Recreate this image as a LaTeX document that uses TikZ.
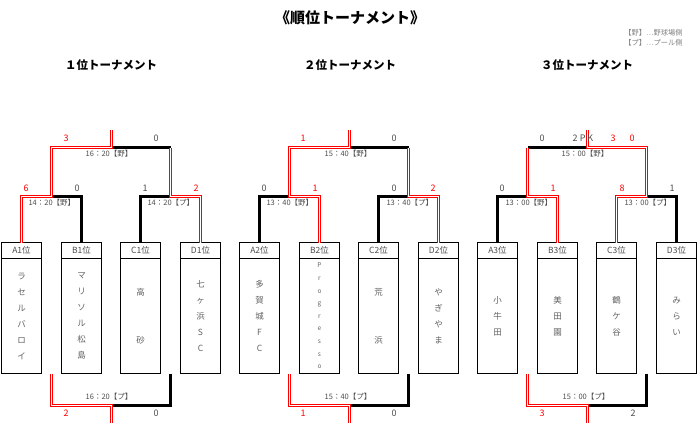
\documentclass[tikz,border=0pt]{standalone}
\usepackage{fontspec}
\setmainfont{Noto Sans CJK JP}
\usetikzlibrary{positioning}

\definecolor{txtgray}{gray}{0.3}
\definecolor{namegray}{gray}{0.38}
\definecolor{winred}{RGB}{255,0,0}

\tikzset{
  rank/.style={draw, line width=1pt, minimum width=40pt, minimum height=16pt, inner sep=0pt, outer sep=0pt, anchor=north, text=txtgray, font=\fontsize{8.5}{10}\selectfont},
  team/.style={draw, line width=1pt, minimum width=40pt, minimum height=115pt, inner sep=0pt, outer sep=0pt, below=0pt of #1, align=center, text=namegray, font=\fontsize{8.5}{16}\selectfont},
  win/.style={color=winred, line width=3pt, postaction={draw, color=white, line width=1pt}},
  lose/.style={draw=black, line width=2.2pt},
  score/.style={text=txtgray, font=\fontsize{9}{10}\selectfont},
  wscore/.style={score, text=winred},
  time/.style={text=txtgray, font=\fontsize{7.5}{9}\selectfont},
  head/.style={font=\bfseries\fontsize{11.5}{13}\selectfont}
}

\begin{document}
\begin{tikzpicture}[x=1pt, y=-1pt]
\useasboundingbox (0,0) rectangle (700,428);

\node[font=\bfseries\fontsize{15}{17}\selectfont] (T) at (350,18) {《順位トーナメント》};
\node[anchor=east, text=gray, font=\fontsize{7.2}{8}\selectfont] (K1) at (686,33) {【野】⋯野球場側};
\node[anchor=east, text=gray, font=\fontsize{7.2}{8}\selectfont] (K2) at (686,43) {【プ】⋯プール側};

\node[head] (H1) at (111,65) {１位トーナメント};
\node[head] (H2) at (350,65) {２位トーナメント};
\node[head] (H3) at (587,65) {３位トーナメント};

% boxes
\node[rank] (A1) at (21.5,242.5)  {A1位};
\node[rank] (B1) at (81.5,242.5)  {B1位};
\node[rank] (C1) at (140.5,242.5) {C1位};
\node[rank] (D1) at (200.5,242.5) {D1位};
\node[rank] (A2) at (259.5,242.5) {A2位};
\node[rank] (B2) at (319.5,242.5) {B2位};
\node[rank] (C2) at (378.5,242.5) {C2位};
\node[rank] (D2) at (438.5,242.5) {D2位};
\node[rank] (A3) at (497.5,242.5) {A3位};
\node[rank] (B3) at (557.5,242.5) {B3位};
\node[rank] (C3) at (616.5,242.5) {C3位};
\node[rank] (D3) at (676.5,242.5) {D3位};

\node[team=A1] (A1t) {ラ\\セ\\ル\\バ\\ロ\\イ};
\node[team=B1] (B1t) {マ\\リ\\ソ\\ル\\松\\島};
\node[team=C1] (C1t) {高\\\mbox{}\\\mbox{}\\砂};
\node[team=D1] (D1t) {七\\ヶ\\浜\\S\\C};
\node[team=A2] (A2t) {多\\賀\\城\\F\\C};
\node[team=B2, font=\fontsize{6.5}{12.6}\selectfont] (B2t) {P\\r\\o\\g\\r\\e\\s\\s\\o};
\node[team=C2] (C2t) {荒\\\mbox{}\\\mbox{}\\浜};
\node[team=D2] (D2t) {や\\ぎ\\や\\ま};
\node[team=A3] (A3t) {小\\牛\\田};
\node[team=B3] (B3t) {美\\田\\園};
\node[team=C3] (C3t) {鶴\\ケ\\谷};
\node[team=D3] (D3t) {み\\ら\\い};

% bracket points
\coordinate (AB1) at (51.5,196.5);
\coordinate (CD1) at (170.5,196.5);
\coordinate (CD1c) at (170.5,147.5);
\coordinate (F1) at (111.5,147.5);
\coordinate (F1e) at (111.5,130);
\coordinate (L1a) at (51.5,373.5);
\coordinate (L1b) at (170.5,373.5);
\coordinate (L1) at (111.5,405.5);
\coordinate (L1e) at (111.5,423);

\coordinate (AB2) at (289.5,196.5);
\coordinate (CD2) at (408.5,196.5);
\coordinate (CD2c) at (408.5,147.5);
\coordinate (F2) at (349.5,147.5);
\coordinate (F2e) at (349.5,130);
\coordinate (L2a) at (289.5,373.5);
\coordinate (L2b) at (408.5,373.5);
\coordinate (L2) at (349.5,405.5);
\coordinate (L2e) at (349.5,423);

\coordinate (AB3) at (527.5,196.5);
\coordinate (AB3c) at (527.5,147.5);
\coordinate (CD3) at (646.5,196.5);
\coordinate (F3) at (587.5,147.5);
\coordinate (F3e) at (587.5,130);
\coordinate (L3a) at (527.5,373.5);
\coordinate (L3b) at (646.5,373.5);
\coordinate (L3) at (587.5,405.5);
\coordinate (L3e) at (587.5,423);

% 1st
\draw[lose] (B1.north) |- (AB1);
\draw[lose] (C1.north) |- (CD1);
\draw[lose] (CD1c) -- (F1);
\draw[lose] (L1b) |- (L1);
\draw[win] (D1.north) |- (CD1) -- (CD1c);
\draw[win] (A1.north) |- (AB1) |- (F1) -- (F1e);
\draw[win] (L1a) |- (L1) -- (L1e);

% 2nd
\draw[lose] (A2.north) |- (AB2);
\draw[lose] (C2.north) |- (CD2);
\draw[lose] (CD2c) -- (F2);
\draw[lose] (L2b) |- (L2);
\draw[win] (D2.north) |- (CD2) -- (CD2c);
\draw[win] (B2.north) |- (AB2) |- (F2) -- (F2e);
\draw[win] (L2a) |- (L2) -- (L2e);

% 3rd
\draw[lose] (A3.north) |- (AB3);
\draw[lose] (D3.north) |- (CD3);
\draw[lose] (AB3c) -- (F3);
\draw[lose] (L3b) |- (L3);
\draw[win] (C3.north) |- (CD3) |- (F3) -- (F3e);
\draw[win] (B3.north) |- (AB3) -- (AB3c);
\draw[win] (L3a) |- (L3) -- (L3e);

% times
\node[time, anchor=west] (G1a) at (25,203)  {14：20【野】};
\node[time, anchor=west] (G1b) at (144,203) {14：20【プ】};
\node[time] (G1f) at (109,154) {16：20【野】};
\node[time] (G1l) at (109,397) {16：20【プ】};
\node[time, anchor=west] (G2a) at (263,203) {13：40【野】};
\node[time, anchor=west] (G2b) at (383,203) {13：40【プ】};
\node[time] (G2f) at (348,154) {15：40【野】};
\node[time] (G2l) at (348,397) {15：40【プ】};
\node[time, anchor=west] (G3a) at (502,203) {13：00【野】};
\node[time, anchor=west] (G3b) at (621,203) {13：00【プ】};
\node[time] (G3f) at (585,154) {15：00【野】};
\node[time] (G3l) at (586,397) {15：00【プ】};

% scores
\node[wscore] (s1a) at (26,188)  {6};
\node[score]  (s1b) at (77,188)  {0};
\node[score]  (s1c) at (145,188) {1};
\node[wscore] (s1d) at (196,188) {2};
\node[wscore] (s1e) at (66,138)  {3};
\node[score]  (s1f) at (156,138) {0};
\node[wscore] (s1g) at (66,413)  {2};
\node[score]  (s1h) at (156,413) {0};

\node[score]  (s2a) at (264,188) {0};
\node[wscore] (s2b) at (315,188) {1};
\node[score]  (s2c) at (394,188) {0};
\node[wscore] (s2d) at (433,188) {2};
\node[wscore] (s2e) at (303,138) {1};
\node[score]  (s2f) at (394,138) {0};
\node[wscore] (s2g) at (303,413) {1};
\node[score]  (s2h) at (394,413) {0};

\node[score]  (s3a) at (502,188) {0};
\node[wscore] (s3b) at (553,188) {1};
\node[wscore] (s3c) at (622,188) {8};
\node[score]  (s3d) at (672,188) {1};
\node[score]  (s3e) at (542,138) {0};
\node[score]  (s3p) at (583,138) {2 P K};
\node[wscore] (s3q) at (613,138) {3};
\node[wscore] (s3f) at (632,138) {0};
\node[wscore] (s3g) at (542,413) {3};
\node[score]  (s3h) at (633,413) {2};
\end{tikzpicture}
\end{document}
